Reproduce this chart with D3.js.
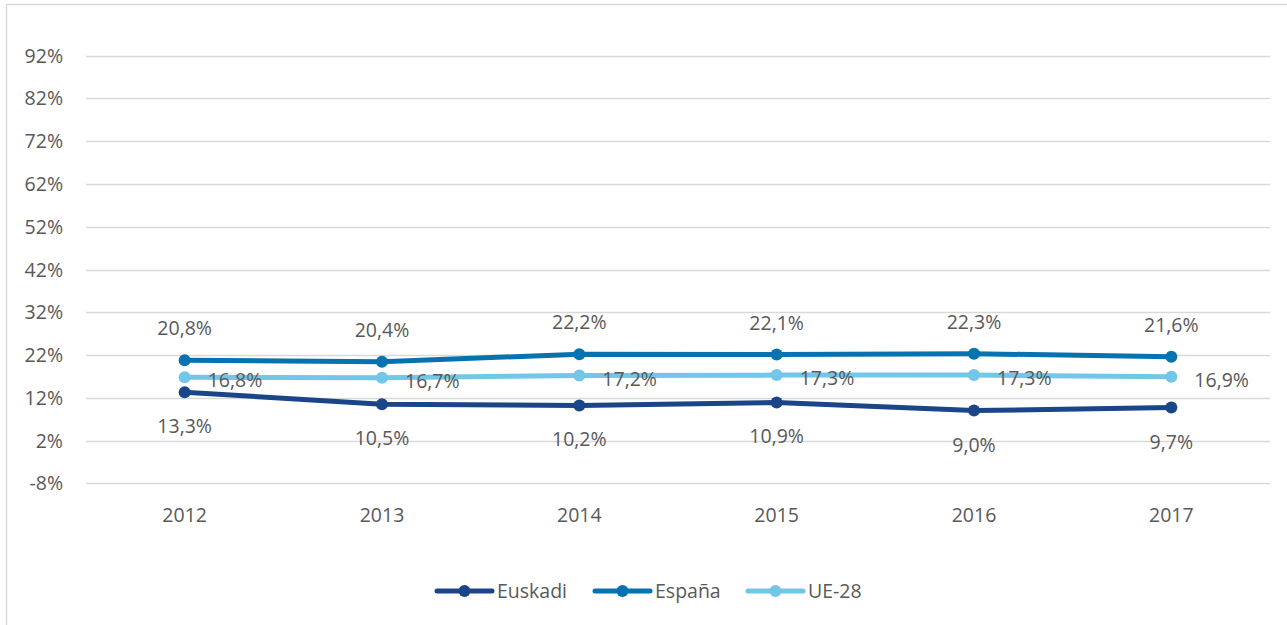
<!DOCTYPE html>
<html>
<head>
<meta charset="utf-8">
<script src="https://cdn.jsdelivr.net/npm/d3@7"></script>
<style>
  body { margin: 0; background: #fff; }
  text { font-family: "Open Sans", "Noto Sans", sans-serif; fill: #595959; }
</style>
</head>
<body>
<div id="chart"></div>
<script>
const years = ["2012", "2013", "2014", "2015", "2016", "2017"]
const euskadi = [13.3, 10.5, 10.2, 10.9, 9.0, 9.7]
const espana = [20.8, 20.4, 22.2, 22.1, 22.3, 21.6]
const ue28 = [16.8, 16.7, 17.2, 17.3, 17.3, 16.9]
const yTicks = [-8, 2, 12, 22, 32, 42, 52, 62, 72, 82, 92]

const series = [
  {name: "Euskadi", values: euskadi, color: "#1B4589", label: "below"},
  {name: "España", values: espana, color: "#0772B0", label: "above"},
  {name: "UE-28", values: ue28, color: "#72C6E7", label: "right"}
]

const W = 1287, H = 625
const fs = "19.5px"
const svg = d3.select("#chart").append("svg")
  .attr("width", W)
  .attr("height", H)

// outer chart border
svg.append("rect")
  .attr("x", 6.5).attr("y", 4.5)
  .attr("width", W).attr("height", H)
  .attr("fill", "none")
  .attr("stroke", "#D9D9D9")
  .attr("stroke-width", 1.5)

const x = d3.scaleBand()
  .domain(years)
  .range([86, 1270])
  .padding(0)

const y = d3.scaleLinear()
  .domain([-8, 92])
  .range([483.3, 55.7])

const fmt = v => d3.format(".1f")(v).replace(".", ",") + "%"

// gridlines
svg.append("g")
  .selectAll("line")
  .data(yTicks)
  .enter()
  .append("line")
  .attr("x1", 86)
  .attr("x2", 1270)
  .attr("y1", d => Math.round(y(d)) + 0.5)
  .attr("y2", d => Math.round(y(d)) + 0.5)
  .attr("stroke", "#D9D9D9")
  .attr("stroke-width", 1.5)

// y labels
svg.append("g")
  .selectAll("text")
  .data(yTicks)
  .enter()
  .append("text")
  .attr("x", 63)
  .attr("y", d => y(d) + 7)
  .attr("text-anchor", "end")
  .style("font-size", fs)
  .text(d => d + "%")

// x labels
svg.append("g")
  .selectAll("text")
  .data(years)
  .enter()
  .append("text")
  .attr("x", d => x(d) + x.bandwidth() / 2)
  .attr("y", 522)
  .attr("text-anchor", "middle")
  .style("font-size", fs)
  .text(d => d)

const cx = d => x(d) + x.bandwidth() / 2

const line = d3.line()
  .x((d, i) => cx(years[i]))
  .y(d => y(d))

// lines + markers
series.forEach(s => {
  svg.append("path")
    .attr("d", line(s.values))
    .attr("fill", "none")
    .attr("stroke", s.color)
    .attr("stroke-width", 5)
    .attr("stroke-linejoin", "round")
    .attr("stroke-linecap", "round")

  svg.append("g")
    .selectAll("circle")
    .data(s.values)
    .enter()
    .append("circle")
    .attr("cx", (d, i) => cx(years[i]))
    .attr("cy", d => y(d))
    .attr("r", 6)
    .attr("fill", s.color)
})

// data labels
series.forEach(s => {
  svg.append("g")
    .selectAll("text")
    .data(s.values)
    .enter()
    .append("text")
    .attr("x", (d, i) => s.label == "right" ? cx(years[i]) + 23 : cx(years[i]))
    .attr("y", d => {
      if (s.label == "above") return y(d) - 25
      if (s.label == "below") return y(d) + 41
      return y(d) + 10
    })
    .attr("text-anchor", s.label == "right" ? "start" : "middle")
    .style("font-size", fs)
    .text(d => fmt(d))
})

// legend
const legendX = [437, 595, 748]
series.forEach((s, i) => {
  let lg = svg.append("g").attr("transform", "translate(" + legendX[i] + ",591)")
  lg.append("line")
    .attr("x1", 0).attr("x2", 55)
    .attr("y1", 0).attr("y2", 0)
    .attr("stroke", s.color)
    .attr("stroke-width", 5)
    .attr("stroke-linecap", "round")
  lg.append("circle")
    .attr("cx", 27.5).attr("cy", 0)
    .attr("r", 6)
    .attr("fill", s.color)
  lg.append("text")
    .attr("x", 60)
    .attr("y", 7)
    .style("font-size", fs)
    .text(s.name)
})
</script>
</body>
</html>
